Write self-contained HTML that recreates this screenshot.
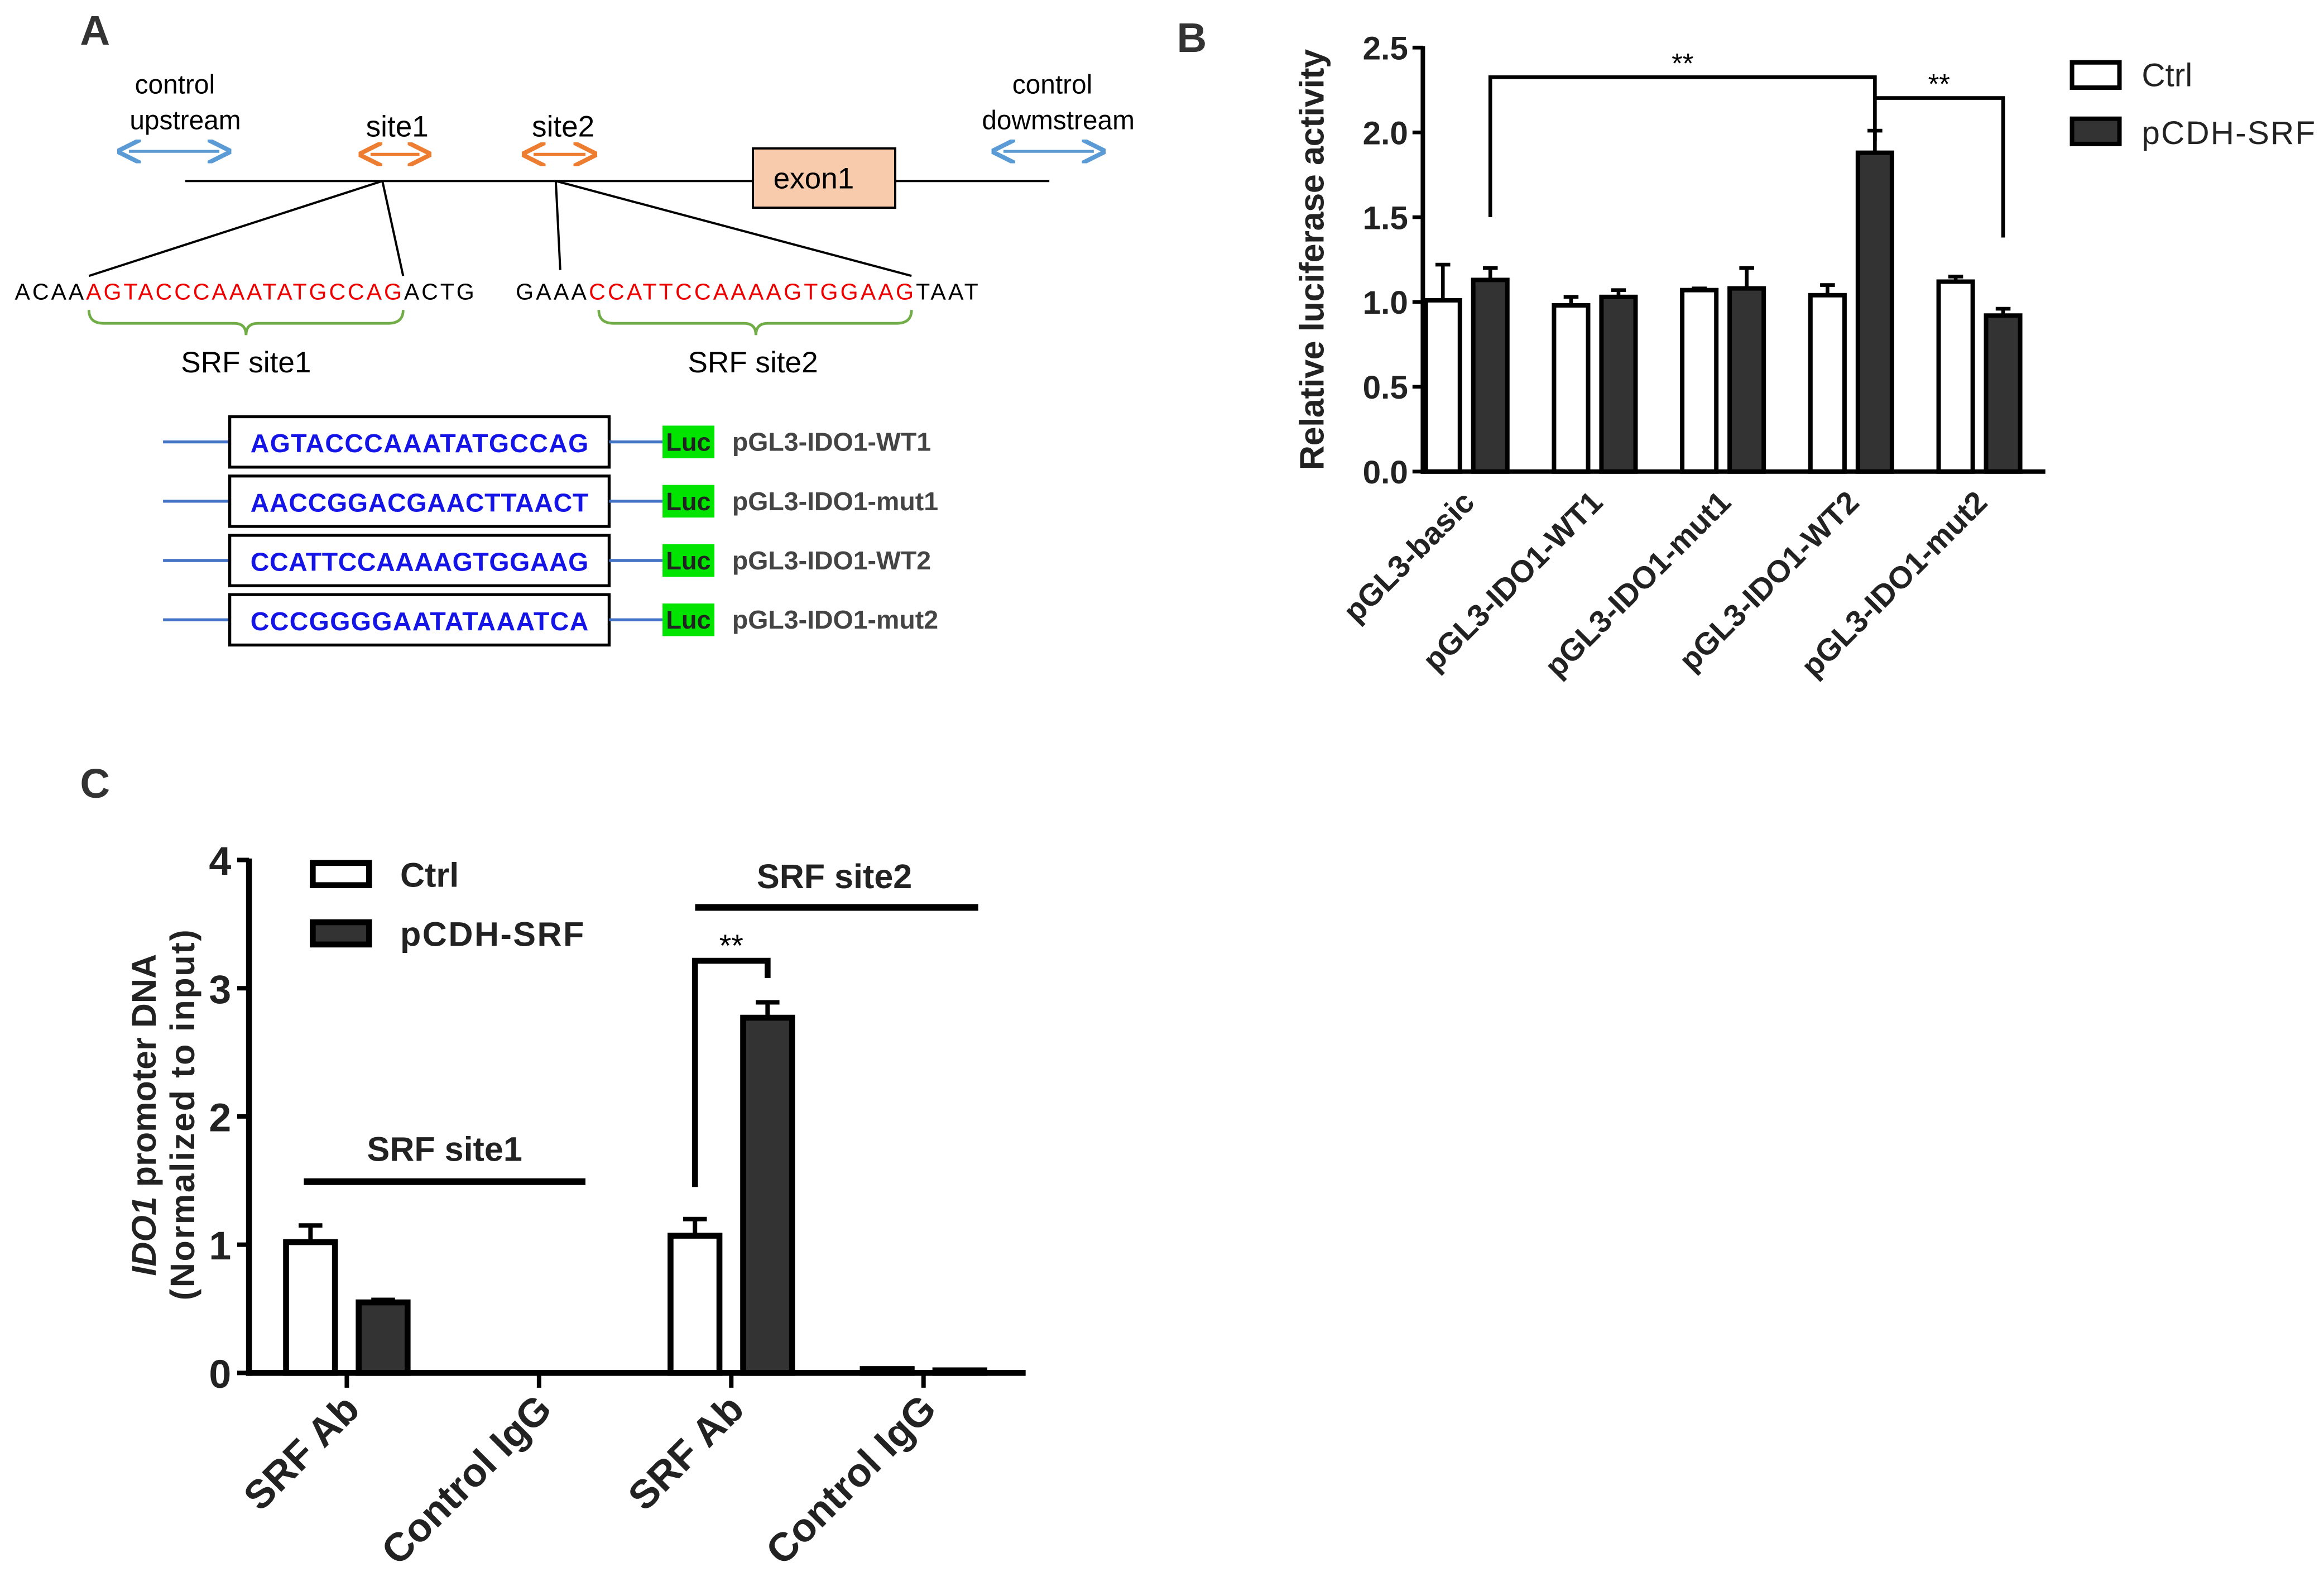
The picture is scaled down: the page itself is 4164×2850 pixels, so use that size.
<!DOCTYPE html>
<html><head><meta charset="utf-8"><style>
html,body{margin:0;padding:0;background:#fff;}
svg{display:block;font-family:"Liberation Sans",Arial,sans-serif;}
</style></head><body>
<svg id="fig" width="4164" height="2850" viewBox="0 0 1568 1073" xmlns="http://www.w3.org/2000/svg">
<defs>
<marker id="ab" markerWidth="8" markerHeight="8" refX="4" refY="4" orient="auto-start-reverse"><path d="M0,0 L8,4 L0,8" fill="none" stroke="#5b9bd5" stroke-width="1.5"/></marker>
<marker id="ao" markerWidth="8" markerHeight="8" refX="4" refY="4" orient="auto-start-reverse"><path d="M0,0 L8,4 L0,8" fill="none" stroke="#ed7d31" stroke-width="1.5"/></marker>
</defs>
<text x="54" y="30" font-size="28" font-weight="bold" fill="#333">A</text>
<text x="794" y="35" font-size="28" font-weight="bold" fill="#333">B</text>
<text x="54" y="538" font-size="28" font-weight="bold" fill="#333">C</text>

<g>
<line x1="125" y1="122" x2="708" y2="122" stroke="#000" stroke-width="1.5"/>
<rect x="508" y="100" width="96" height="40" fill="#f8cbad" stroke="#000" stroke-width="1.5"/>
<text x="549" y="127" font-size="20" text-anchor="middle">exon1</text>
<line x1="87" y1="102" x2="148" y2="102" stroke="#5b9bd5" stroke-width="2" marker-start="url(#ab)" marker-end="url(#ab)"/>
<text x="118" y="63" font-size="18" text-anchor="middle">control</text>
<text x="125" y="87" font-size="18" text-anchor="middle">upstream</text>
<line x1="250" y1="104" x2="283" y2="104" stroke="#ed7d31" stroke-width="2" marker-start="url(#ao)" marker-end="url(#ao)"/>
<text x="268" y="92" font-size="20" text-anchor="middle">site1</text>
<line x1="360" y1="104" x2="395" y2="104" stroke="#ed7d31" stroke-width="2" marker-start="url(#ao)" marker-end="url(#ao)"/>
<text x="380" y="92" font-size="20" text-anchor="middle">site2</text>
<line x1="677" y1="102" x2="738" y2="102" stroke="#5b9bd5" stroke-width="2" marker-start="url(#ab)" marker-end="url(#ab)"/>
<text x="710" y="63" font-size="18" text-anchor="middle">control</text>
<text x="714" y="87" font-size="18" text-anchor="middle">dowmstream</text>
<g stroke="#000" stroke-width="1.5">
<line x1="258" y1="122" x2="60" y2="186"/><line x1="258" y1="122" x2="272" y2="186"/>
<line x1="375" y1="122" x2="378" y2="182"/><line x1="375" y1="122" x2="615" y2="186"/>
</g>
<text x="10" y="202" font-size="15.5" textLength="310">ACAA<tspan fill="#e00">AGTACCCAAATATGCCAG</tspan>ACTG</text>
<text x="348" y="202" font-size="15.5" textLength="312">GAAA<tspan fill="#e00">CCATTCCAAAAGTGGAAG</tspan>TAAT</text>
<path d="M60,209 Q60,218 70,218 L158,218 Q166,218 166,226 Q166,218 174,218 L262,218 Q272,218 272,209" fill="none" stroke="#70ad47" stroke-width="1.8"/>
<path d="M404,209 Q404,218 414,218 L502,218 Q510,218 510,226 Q510,218 518,218 L605,218 Q615,218 615,209" fill="none" stroke="#70ad47" stroke-width="1.8"/>
<text x="166" y="251" font-size="20" text-anchor="middle">SRF site1</text>
<text x="508" y="251" font-size="20" text-anchor="middle">SRF site2</text>
</g>
<g id="constructs"></g>
<g id="chartB"></g>
<g id="chartC"></g>
</svg>
<script>
const NS="http://www.w3.org/2000/svg";
function mk(parent,tag,attrs,text){const e=document.createElementNS(NS,tag);for(const k in attrs)e.setAttribute(k,attrs[k]);if(text!==undefined)e.textContent=text;parent.appendChild(e);return e;}

const constructSeqs=["AGTACCCAAATATGCCAG","AACCGGACGAACTTAACT","CCATTCCAAAAGTGGAAG","CCCGGGGAATATAAATCA"];
const constructNames=["pGL3-IDO1-WT1","pGL3-IDO1-mut1","pGL3-IDO1-WT2","pGL3-IDO1-mut2"];
const cg=document.getElementById('constructs');
constructSeqs.forEach((s,i)=>{
  const cy=298+i*40;
  let e=mk(cg,'line',{x1:110,y1:cy,x2:155,y2:cy,stroke:'#4472c4','stroke-width':2});
  
  
  e=mk(cg,'rect',{x:155,y:cy-17,width:256,height:34,fill:'#fff',stroke:'#000','stroke-width':2});
  
  
  e=mk(cg,'text',{x:283,y:cy+7,'font-size':17.5,'font-weight':'bold',fill:'#1414e6','text-anchor':'middle',textLength:228},s);
  
  
  e=mk(cg,'line',{x1:411,y1:cy,x2:447,y2:cy,stroke:'#4472c4','stroke-width':2});
  
  
  e=mk(cg,'rect',{x:447,y:cy-11,width:35,height:22,fill:'#00e400'});
  
  
  e=mk(cg,'text',{x:464.5,y:cy+6,'font-size':17,'font-weight':'bold','text-anchor':'middle',fill:'#222'},'Luc');
  
  
  e=mk(cg,'text',{x:494,y:cy+6,'font-size':17.5,'font-weight':'bold',fill:'#444'},constructNames[i]);
  
  
});

const bCategories=["pGL3-basic","pGL3-IDO1-WT1","pGL3-IDO1-mut1","pGL3-IDO1-WT2","pGL3-IDO1-mut2"];
const bCtrl=[1.01,0.98,1.07,1.04,1.12];
const bCtrlErr=[0.21,0.05,0.01,0.06,0.03];
const bSrf=[1.13,1.03,1.08,1.88,0.92];
const bSrfErr=[0.07,0.04,0.12,0.13,0.04];
const bTicks=["0.0","0.5","1.0","1.5","2.0","2.5"];
const bTickVals=[0,0.5,1,1.5,2,2.5];

(function(){
  const g=document.getElementById('chartB');
  const X0=960,Y0=318,Ytop=32,ymax=2.5,XEND=1380;
  const y=v=>Y0-(v/ymax)*(Y0-Ytop);
  const gx=i=>1032+i*86.5;
  let e;
  bTickVals.forEach((v,i)=>{
    e=mk(g,'line',{x1:X0-7,y1:y(v),x2:X0,y2:y(v),stroke:'#000','stroke-width':2.5});
    
    
    e=mk(g,'text',{x:X0-10,y:y(v)+8,'font-size':22,'font-weight':'bold','text-anchor':'end',fill:'#222'},bTicks[i]);
    
    
  });
  function bar(cx,v,err,fill,name){
    const w=23;
    let e=mk(g,'line',{x1:cx,y1:y(v),x2:cx,y2:y(v+err),stroke:'#000','stroke-width':2.5});
    
    
    e=mk(g,'line',{x1:cx-5,y1:y(v+err),x2:cx+5,y2:y(v+err),stroke:'#000','stroke-width':2.5});
    
    
    e=mk(g,'rect',{x:cx-w/2,y:y(v),width:w,height:Y0-y(v),fill:fill,stroke:'#000','stroke-width':3});
    
    
  }
  bCategories.forEach((c,i)=>{
    bar(gx(i)-58.5,bCtrl[i],bCtrlErr[i],'#fff','bar-ctrl');
    bar(gx(i)-26.5,bSrf[i],bSrfErr[i],'#333','bar-pcdh-srf');
    const tx=gx(i)-36, ty=Y0+22;
    e=mk(g,'text',{x:tx,y:ty,'font-size':21,'font-weight':'bold','text-anchor':'end',fill:'#222',transform:`rotate(-45 ${tx} ${ty})`},c);
    
    
  });
  e=mk(g,'line',{x1:X0,y1:Ytop-1,x2:X0,y2:Y0+1.5,stroke:'#000','stroke-width':3});
  
  
  e=mk(g,'line',{x1:X0-1.5,y1:Y0,x2:XEND,y2:Y0,stroke:'#000','stroke-width':3});
  
  
  e=mk(g,'text',{x:893,y:175,'font-size':23,'font-weight':'bold','text-anchor':'middle',fill:'#222',transform:'rotate(-90 893 175)',textLength:284},'Relative luciferase activity');
  
  
  const b1=gx(0)-26.5, b2=gx(3)-26.5, b3=gx(4)-26.5;
  e=mk(g,'path',{d:`M${b1},${y(1.5)} L${b1},52 L${b2},52 L${b2},${y(1.95)}`,fill:'none',stroke:'#000','stroke-width':2.5});
  
  
  e=mk(g,'path',{d:`M${b2},66 L${b3},66 L${b3},${y(1.38)}`,fill:'none',stroke:'#000','stroke-width':2.5});
  
  
  e=mk(g,'text',{x:(b1+b2)/2,y:49,'font-size':19,'text-anchor':'middle'},'**');
  
  
  e=mk(g,'text',{x:(b2+b3)/2,y:63,'font-size':19,'text-anchor':'middle'},'**');
  
  
  e=mk(g,'rect',{x:1398,y:42,width:32,height:17,fill:'#fff',stroke:'#000','stroke-width':3});
  
  
  e=mk(g,'text',{x:1445,y:58,'font-size':22,fill:'#222'},'Ctrl');
  
  
  e=mk(g,'rect',{x:1398,y:80,width:32,height:17,fill:'#333',stroke:'#000','stroke-width':3});
  
  
  e=mk(g,'text',{x:1445,y:97,'font-size':22,fill:'#222',textLength:117},'pCDH-SRF');
  
  
})();

const cCategories=["SRF Ab","Control IgG","SRF Ab","Control IgG"];
const cCtrl=[1.02,0,1.07,0.03];
const cCtrlErr=[0.13,0,0.13,0];
const cSrf=[0.55,0,2.77,0.02];
const cSrfErr=[0.02,0,0.12,0];
const cTicks=["0","1","2","3","4"];
const cTickVals=[0,1,2,3,4];

(function(){
  const g=document.getElementById('chartC');
  const X0=168,Y0=926,Ytop=580,ymax=4,XEND=692;
  const y=v=>Y0-(v/ymax)*(Y0-Ytop);
  const gx=i=>234+i*129.7;
  let e;
  cTickVals.forEach((v,i)=>{
    e=mk(g,'line',{x1:X0-8,y1:y(v),x2:X0,y2:y(v),stroke:'#000','stroke-width':3});
    
    
    e=mk(g,'text',{x:X0-12,y:y(v)+10,'font-size':27,'font-weight':'bold','text-anchor':'end',fill:'#222'},cTicks[i]);
    
    
  });
  function bar(cx,v,err,fill,name){
    const w=33;
    if(err>0){
      let e=mk(g,'line',{x1:cx,y1:y(v),x2:cx,y2:y(v+err),stroke:'#000','stroke-width':3});
      
      
      e=mk(g,'line',{x1:cx-8,y1:y(v+err),x2:cx+8,y2:y(v+err),stroke:'#000','stroke-width':3});
      
      
    }
    let e=mk(g,'rect',{x:cx-w/2,y:y(v),width:w,height:Y0-y(v),fill:fill,stroke:'#000','stroke-width':4});
    
    
  }
  cCategories.forEach((c,i)=>{
    bar(gx(i)-24.5,cCtrl[i],cCtrlErr[i],'#fff','bar-ctrl');
    bar(gx(i)+24.5,cSrf[i],cSrfErr[i],'#333','bar-pcdh-srf');
    e=mk(g,'line',{x1:gx(i),y1:Y0,x2:gx(i),y2:Y0+10,stroke:'#000','stroke-width':3});
    
    
    const tx=gx(i)+10,ty=Y0+26;
    e=mk(g,'text',{x:tx,y:ty,'font-size':27,'font-weight':'bold','text-anchor':'end',fill:'#222',transform:`rotate(-45 ${tx} ${ty})`},c);
    
    
  });
  e=mk(g,'line',{x1:X0,y1:Ytop-1,x2:X0,y2:Y0+2,stroke:'#000','stroke-width':4});
  
  
  e=mk(g,'line',{x1:X0-2,y1:Y0,x2:XEND,y2:Y0,stroke:'#000','stroke-width':4});
  
  
  e=mk(g,'text',{x:105,y:752,'font-size':23,'font-weight':'bold','text-anchor':'middle',fill:'#222',transform:'rotate(-90 105 752)'});
  e.innerHTML='<tspan font-style="italic">IDO1</tspan> promoter DNA';
  
  
  e=mk(g,'text',{x:131,y:752,'font-size':23,'font-weight':'bold','text-anchor':'middle',fill:'#222',transform:'rotate(-90 131 752)',textLength:250},'(Normalized to input)');
  
  
  e=mk(g,'line',{x1:205,y1:797,x2:395,y2:797,stroke:'#000','stroke-width':4.5});
  
  
  e=mk(g,'text',{x:300,y:783,'font-size':23,'font-weight':'bold','text-anchor':'middle',fill:'#222'},'SRF site1');
  
  
  e=mk(g,'line',{x1:469,y1:612,x2:660,y2:612,stroke:'#000','stroke-width':4.5});
  
  
  e=mk(g,'text',{x:563,y:599,'font-size':23,'font-weight':'bold','text-anchor':'middle',fill:'#222'},'SRF site2');
  
  
  const c1=gx(2)-24.5,c2=gx(2)+24.5;
  e=mk(g,'path',{d:`M${c1},${y(1.45)} L${c1},648 L${c2},648 L${c2},${y(3.08)}`,fill:'none',stroke:'#000','stroke-width':4});
  
  
  e=mk(g,'text',{x:(c1+c2)/2,y:645,'font-size':21,'text-anchor':'middle'},'**');
  
  
  e=mk(g,'rect',{x:211,y:582,width:38,height:15,fill:'#fff',stroke:'#000','stroke-width':4});
  
  
  e=mk(g,'text',{x:270,y:598,'font-size':23,'font-weight':'bold',fill:'#222'},'Ctrl');
  
  
  e=mk(g,'rect',{x:211,y:622,width:38,height:15,fill:'#333',stroke:'#000','stroke-width':4});
  
  
  e=mk(g,'text',{x:270,y:638,'font-size':23,'font-weight':'bold',fill:'#222',textLength:124},'pCDH-SRF');
  
  
})();
</script>
</body></html>
